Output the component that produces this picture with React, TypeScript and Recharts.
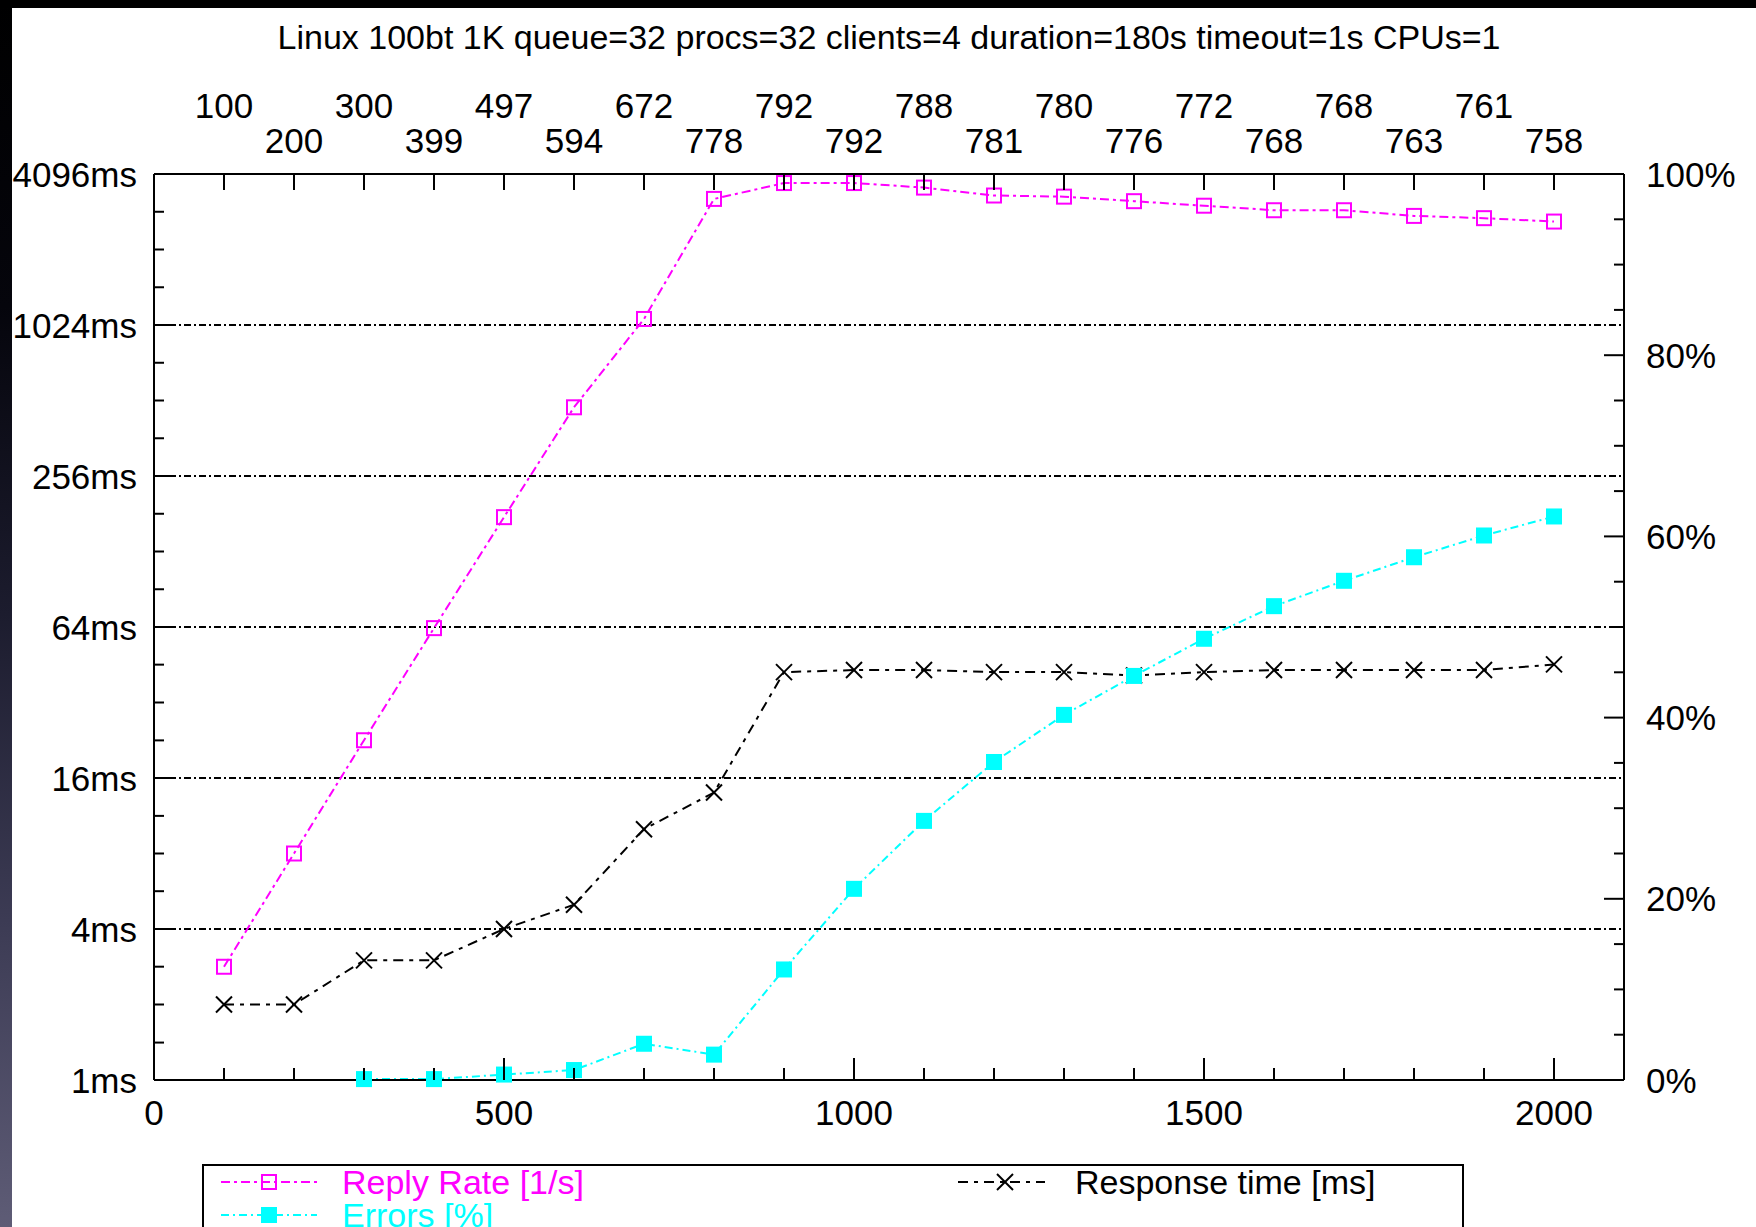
import React from 'react';
import { ComposedChart, Line, XAxis, YAxis, ReferenceLine } from 'recharts';

const TITLE = 'Linux 100bt 1K queue=32 procs=32 clients=4 duration=180s timeout=1s CPUs=1';

const loads = [100, 200, 300, 400, 500, 600, 700, 800, 900, 1000, 1100, 1200, 1300, 1400, 1500, 1600, 1700, 1800, 1900, 2000];
const replyRate = [100, 200, 300, 399, 497, 594, 672, 778, 792, 792, 788, 781, 780, 776, 772, 768, 768, 763, 761, 758];
const responseTime = [2.0, 2.0, 3.0, 3.0, 4.0, 5.0, 10.0, 14.0, 42.3, 43.1, 43.1, 42.3, 42.3, 41.0, 42.3, 43.1, 43.1, 43.1, 43.1, 45.4];
const errorsPct = [null, null, 0.1, 0.1, 0.6, 1.1, 4.0, 2.8, 12.2, 21.1, 28.6, 35.1, 40.3, 44.6, 48.7, 52.3, 55.1, 57.7, 60.1, 62.2];

const xTicks = [0, 100, 200, 300, 400, 500, 600, 700, 800, 900, 1000, 1100, 1200, 1300, 1400, 1500, 1600, 1700, 1800, 1900, 2000];
const xLabelTicks = [0, 500, 1000, 1500, 2000];
const msTicks = [1, 1.41, 2, 2.83, 4, 5.66, 8, 11.3, 16, 22.6, 32, 45.3, 64, 90.5, 128, 181, 256, 362, 512, 724, 1024, 1448, 2048, 2896, 4096];
const msMajorTicks = [1, 4, 16, 64, 256, 1024, 4096];
const msGridLines = [4, 16, 64, 256, 1024];
const pctTicks = [0, 5, 10, 15, 20, 25, 30, 35, 40, 45, 50, 55, 60, 65, 70, 75, 80, 85, 90, 95, 100];
const pctMajorTicks = [0, 20, 40, 60, 80, 100];

const data = loads.map((load, i) => ({
  load,
  rate: replyRate[i],
  resp: responseTime[i],
  err: errorsPct[i],
}));

const FONT = '"Liberation Sans", Arial, Helvetica, sans-serif';
const FS = 34;
const TFS = 35;
const MAGENTA = '#ff00ff';
const CYAN = '#00ffff';

const LeftTick = (props: any) => {
  const { x, y, payload } = props;
  const v = payload.value;
  const major = msMajorTicks.includes(v);
  return (
    <g>
      <line x1={x} y1={y} x2={x + (major ? 18 : 10)} y2={y} stroke="#000" strokeWidth={2} />
      {major && (
        <text x={x - 17} y={y} textAnchor="end" dominantBaseline="central" fontFamily={FONT} fontSize={TFS} fill="#000">
          {`${v}ms`}
        </text>
      )}
    </g>
  );
};

const RightTick = (props: any) => {
  const { x, y, payload } = props;
  const v = payload.value;
  const major = pctMajorTicks.includes(v);
  return (
    <g>
      <line x1={x} y1={y} x2={x - (major ? 20 : 10)} y2={y} stroke="#000" strokeWidth={2} />
      {major && (
        <text x={x + 22} y={y} textAnchor="start" dominantBaseline="central" fontFamily={FONT} fontSize={TFS} fill="#000">
          {`${v}%`}
        </text>
      )}
    </g>
  );
};

const BottomTick = (props: any) => {
  const { x, y, payload } = props;
  const v = payload.value;
  const major = xLabelTicks.includes(v);
  return (
    <g>
      <line x1={x} y1={y} x2={x} y2={y - (major ? 22 : 12)} stroke="#000" strokeWidth={2} />
      {major && (
        <text x={x} y={y + 32} textAnchor="middle" dominantBaseline="central" fontFamily={FONT} fontSize={TFS} fill="#000">
          {`${v}`}
        </text>
      )}
    </g>
  );
};

const TopTick = (props: any) => {
  const { x, y, payload } = props;
  const v = payload.value;
  const i = loads.indexOf(v);
  const upper = i % 2 === 0;
  return (
    <g>
      <line x1={x} y1={y} x2={x} y2={y + 16} stroke="#000" strokeWidth={2} />
      <text x={x} y={y - (upper ? 69 : 34)} textAnchor="middle" dominantBaseline="central" fontFamily={FONT} fontSize={TFS} fill="#000">
        {`${replyRate[i]}`}
      </text>
    </g>
  );
};

const OpenSquare = (props: any) => {
  const { cx, cy, index } = props;
  if (cx == null || cy == null) return <g key={`os${index}`} />;
  return <rect key={`os${index}`} x={cx - 7} y={cy - 7} width={14} height={14} fill="none" stroke={MAGENTA} strokeWidth={2} />;
};

const FilledSquare = (props: any) => {
  const { cx, cy, index } = props;
  if (cx == null || cy == null) return <g key={`fs${index}`} />;
  return <rect key={`fs${index}`} x={cx - 8} y={cy - 8} width={16} height={16} fill={CYAN} stroke="none" />;
};

const Cross = (props: any) => {
  const { cx, cy, index } = props;
  if (cx == null || cy == null) return <g key={`cx${index}`} />;
  return (
    <g key={`cx${index}`}>
      <line x1={cx - 8} y1={cy - 8} x2={cx + 8} y2={cy + 8} stroke="#000" strokeWidth={2} />
      <line x1={cx - 8} y1={cy + 8} x2={cx + 8} y2={cy - 8} stroke="#000" strokeWidth={2} />
    </g>
  );
};

export default function App() {
  return (
    <div
      style={{
        position: 'fixed',
        left: 0,
        top: 0,
        width: 1756,
        height: 1227,
        background: '#fff',
        overflow: 'hidden',
        fontFamily: FONT,
      }}
    >
      <div
        style={{
          position: 'absolute',
          left: 0,
          top: 0,
          width: 12,
          height: 1227,
          background: 'linear-gradient(to bottom, #000 0%, #05050c 25%, #1c1c2e 50%, #3c3b54 75%, #5e5c76 100%)',
        }}
      />
      <div style={{ position: 'absolute', left: 0, top: 0, width: 1756, height: 8, background: '#000' }} />
      <div
        style={{
          position: 'absolute',
          left: 154,
          width: 1470,
          top: 17,
          height: 40,
          lineHeight: '40px',
          textAlign: 'center',
          fontSize: 34,
          color: '#000',
          whiteSpace: 'nowrap',
        }}
      >
        {TITLE}
      </div>
      <div style={{ position: 'absolute', left: 0, top: 0 }}>
        <ComposedChart width={1756} height={1227} data={data} margin={{ top: 114, left: 14, right: 12, bottom: 97 }}>
          <XAxis
            xAxisId="bottom"
            dataKey="load"
            type="number"
            domain={[0, 2100]}
            ticks={xTicks}
            interval={0}
            height={50}
            tickSize={0}
            tickMargin={0}
            tickLine={false}
            axisLine={{ stroke: '#000', strokeWidth: 2 }}
            tick={<BottomTick />}
          />
          <XAxis
            xAxisId="top"
            orientation="top"
            dataKey="load"
            type="number"
            domain={[0, 2100]}
            ticks={loads}
            interval={0}
            height={60}
            tickSize={0}
            tickMargin={0}
            tickLine={false}
            axisLine={{ stroke: '#000', strokeWidth: 2 }}
            tick={<TopTick />}
          />
          <YAxis
            yAxisId="ms"
            orientation="left"
            scale="log"
            type="number"
            domain={[1, 4096]}
            ticks={msTicks}
            interval={0}
            width={140}
            tickSize={0}
            tickMargin={0}
            tickLine={false}
            axisLine={{ stroke: '#000', strokeWidth: 2 }}
            tick={<LeftTick />}
          />
          <YAxis
            yAxisId="pct"
            orientation="right"
            type="number"
            domain={[0, 100]}
            ticks={pctTicks}
            interval={0}
            width={120}
            tickSize={0}
            tickMargin={0}
            tickLine={false}
            axisLine={{ stroke: '#000', strokeWidth: 2 }}
            tick={<RightTick />}
          />
          <YAxis yAxisId="rate" hide type="number" domain={[0, 800]} />
          {msGridLines.map((v) => (
            <ReferenceLine
              key={`g${v}`}
              xAxisId="bottom"
              yAxisId="ms"
              y={v}
              stroke="#000"
              strokeWidth={1.8}
              strokeDasharray="7 3 2 3"
            />
          ))}
          <Line
            xAxisId="bottom"
            yAxisId="rate"
            dataKey="rate"
            type="linear"
            stroke={MAGENTA}
            strokeWidth={2}
            strokeDasharray="9 4 3 4"
            dot={OpenSquare}
            activeDot={false}
            isAnimationActive={false}
          />
          <Line
            xAxisId="bottom"
            yAxisId="ms"
            dataKey="resp"
            type="linear"
            stroke="#000"
            strokeWidth={2}
            strokeDasharray="10 6 4 6"
            dot={Cross}
            activeDot={false}
            isAnimationActive={false}
          />
          <Line
            xAxisId="bottom"
            yAxisId="pct"
            dataKey="err"
            type="linear"
            stroke={CYAN}
            strokeWidth={2}
            strokeDasharray="8 4 2 4"
            dot={FilledSquare}
            activeDot={false}
            connectNulls={false}
            isAnimationActive={false}
          />
        </ComposedChart>
      </div>
      <div
        style={{
          position: 'absolute',
          left: 202,
          top: 1164,
          width: 1262,
          height: 100,
          border: '2px solid #000',
          boxSizing: 'border-box',
        }}
      >
        <svg width={1262} height={100} style={{ position: 'absolute', left: -2, top: -2 }}>
          <line x1={19} y1={18} x2={115} y2={18} stroke={MAGENTA} strokeWidth={2} strokeDasharray="9 4 3 4" />
          <rect x={60} y={11} width={14} height={14} fill="none" stroke={MAGENTA} strokeWidth={2} />
          <text x={140} y={18} dominantBaseline="central" fontFamily={FONT} fontSize={FS} fill={MAGENTA}>
            Reply Rate [1/s]
          </text>
          <line x1={756} y1={18} x2={843} y2={18} stroke="#000" strokeWidth={2} strokeDasharray="10 6 4 6" />
          <line x1={795} y1={10} x2={811} y2={26} stroke="#000" strokeWidth={2} />
          <line x1={795} y1={26} x2={811} y2={10} stroke="#000" strokeWidth={2} />
          <text x={873} y={18} dominantBaseline="central" fontFamily={FONT} fontSize={FS} fill="#000">
            Response time [ms]
          </text>
          <line x1={19} y1={51} x2={115} y2={51} stroke={CYAN} strokeWidth={2} strokeDasharray="8 4 2 4" />
          <rect x={59} y={43} width={16} height={16} fill={CYAN} />
          <text x={140} y={51} dominantBaseline="central" fontFamily={FONT} fontSize={FS} fill={CYAN}>
            Errors [%]
          </text>
        </svg>
      </div>
    </div>
  );
}
